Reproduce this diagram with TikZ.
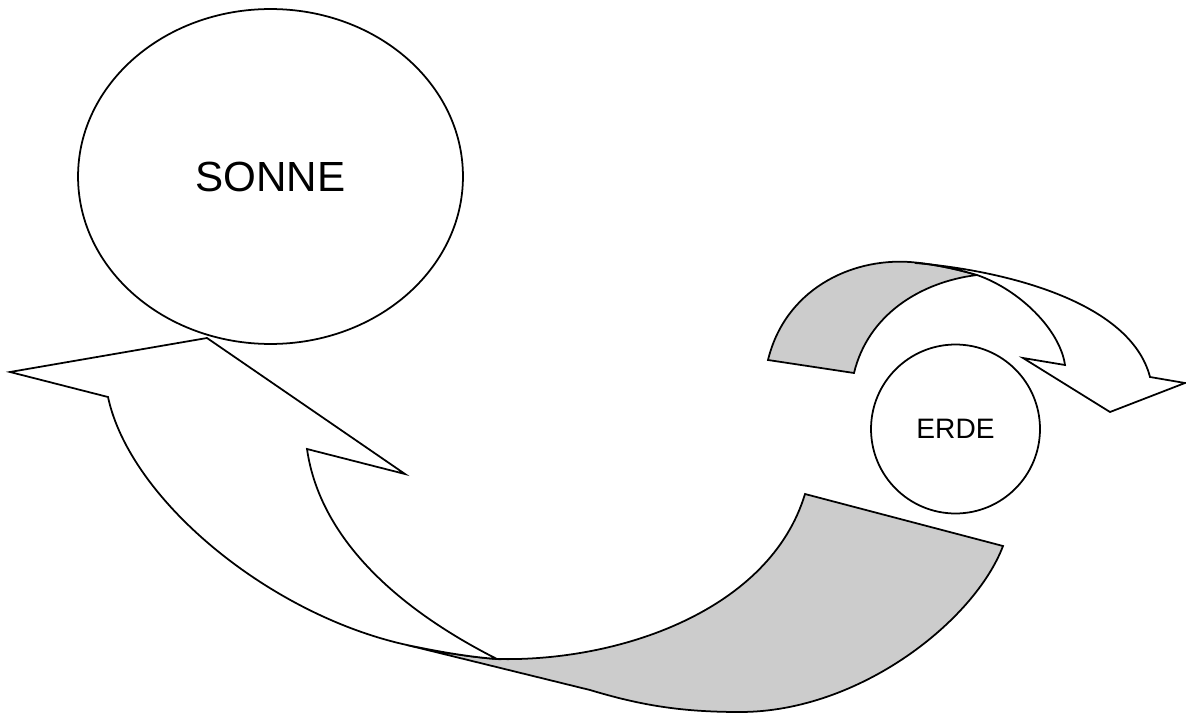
\documentclass[tikz,border=0pt]{standalone}
\usepackage{fontspec}
\setmainfont{Liberation Sans}
\usetikzlibrary{shapes.geometric}
\definecolor{backshade}{RGB}{204,204,204}
\tikzset{
  outline/.style={draw=black, line width=1pt, line join=miter},
  backpart/.style={outline, fill=backshade},
  frontpart/.style={outline, fill=white},
  body/.style={draw=black, line width=1pt, inner sep=0pt}
}
\begin{document}
\begin{tikzpicture}[x=0.02cm, y=-0.02cm]
\useasboundingbox (0,0) rectangle (1186,713);

% big curved arrow: back (shaded) part
\draw[backpart] (497,659) .. controls (620,662) and (770,610) .. (805,494)
  -- (1003,546) .. controls (975,620) and (860,712) .. (740,712)
  .. controls (680,712) and (640,705) .. (590,690)
  -- (407,645) .. controls (440,652) and (470,657) .. (497,659) -- cycle;
% big curved arrow: front part with head
\draw[frontpart] (497,659) .. controls (470,657) and (440,652) .. (407,645)
  .. controls (270,615) and (130,500) .. (108,397)
  -- (10,372) -- (207,338) -- (405,474) -- (307,449)
  .. controls (320,540) and (400,610) .. (497,659) -- cycle;

% small curved arrow round the earth: back (shaded) part
\draw[backpart] (768,360) .. controls (785,290) and (850,258) .. (910,262)
  .. controls (935,264) and (960,270) .. (977,275)
  .. controls (920,282) and (868,315) .. (854,373) -- cycle;
% small curved arrow: front part with head
\draw[frontpart] (915,263) .. controls (1000,270) and (1130,300) .. (1150,377)
  -- (1185,383) -- (1110,412) -- (1023,358) -- (1065,365)
  .. controls (1060,330) and (1020,290) .. (977,275)
  .. controls (960,270) and (935,264) .. (915,263) -- cycle;

% bodies
\node[body, ellipse, minimum width=7.7cm, minimum height=6.7cm,
      font=\fontsize{24}{28}\selectfont] (sonne) at (270.5,176.5) {SONNE};
\node[body, circle, fill=white, minimum size=3.38cm,
      font=\fontsize{16}{19}\selectfont] (erde) at (955.5,429) {ERDE};
\end{tikzpicture}
\end{document}
